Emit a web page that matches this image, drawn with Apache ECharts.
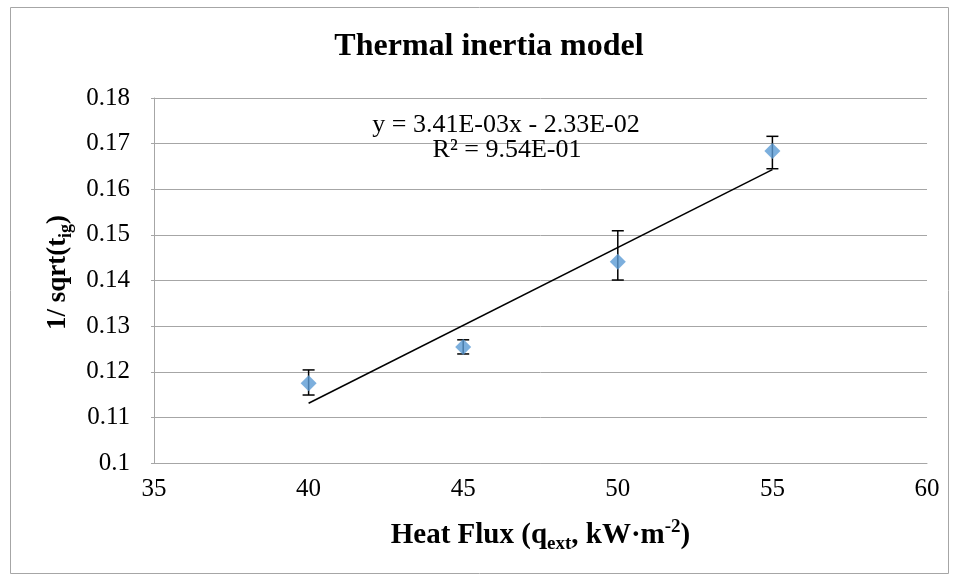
<!DOCTYPE html>
<html><head><meta charset="utf-8">
<script src="https://cdn.jsdelivr.net/npm/echarts@6/dist/echarts.min.js"></script>
<style>html,body{margin:0;padding:0;background:#fff}#c{width:958px;height:580px}</style>
</head><body><div id="c"></div>
<script>
// Data
const heatFlux = [40, 45, 50, 55];
const invSqrtTig = [0.1175, 0.1254, 0.1441, 0.1684];
const errLow = [0.1149, 0.1239, 0.1401, 0.1645];
const errHigh = [0.1204, 0.1270, 0.1509, 0.1716];
const trendX = [40, 55];
const trendY = [0.1131, 0.1643];
const titleText = 'Thermal inertia model';
const eqLine1 = 'y = 3.41E-03x - 2.33E-02';
const eqLine2 = 'R² = 9.54E-01';

const FONT = '"Liberation Serif", "Times New Roman", serif';
const chart = echarts.init(document.getElementById('c'), null, {renderer: 'canvas'});

const pts = heatFlux.map((x, i) => [x, invSqrtTig[i]]);
const errs = heatFlux.map((x, i) => [x, errLow[i], errHigh[i]]);
const trend = trendX.map((x, i) => [x, trendY[i]]);

chart.setOption({
  backgroundColor: '#fff',
  animation: false,
  grid: {left: 154, right: 31, top: 98, bottom: 117, containLabel: false},
  xAxis: {
    type: 'value', min: 35, max: 60, interval: 5,
    axisLine: {show: true, lineStyle: {color: '#a6a6a6', width: 1}},
    axisTick: {show: false},
    splitLine: {show: false},
    axisLabel: {color: '#000', fontFamily: FONT, fontSize: 25, margin: 14},
    name: '{b|Heat Flux (q}{s|ext}{b|, kW·m}{p|-2}{b|)}',
    nameLocation: 'middle', nameGap: 55,
    nameTextStyle: {
      rich: {
        b: {fontFamily: FONT, fontSize: 29, fontWeight: 'bold', color: '#000', lineHeight: 36, verticalAlign: 'middle'},
        s: {fontFamily: FONT, fontSize: 19, fontWeight: 'bold', color: '#000', lineHeight: 17, verticalAlign: 'bottom'},
        p: {fontFamily: FONT, fontSize: 19, fontWeight: 'bold', color: '#000', lineHeight: 17, verticalAlign: 'top'}
      }
    }
  },
  yAxis: {
    type: 'value', min: 0.1, max: 0.18, interval: 0.01,
    axisLine: {show: true, lineStyle: {color: '#a6a6a6', width: 1}},
    axisTick: {show: true, length: 3, lineStyle: {color: '#a6a6a6'}},
    splitLine: {show: true, lineStyle: {color: '#a6a6a6', width: 1}},
    axisLabel: {color: '#000', fontFamily: FONT, fontSize: 25, margin: 24,
      formatter: v => String(parseFloat(v.toFixed(2)))},
    name: '{b|1/ sqrt(t}{s|ig}{b|)}',
    nameLocation: 'middle', nameGap: 74, nameRotate: 90,
    nameTextStyle: {
      padding: [0, 0, 0, 16],
      rich: {
        b: {fontFamily: FONT, fontSize: 27, fontWeight: 'bold', color: '#000', lineHeight: 34, verticalAlign: 'middle'},
        s: {fontFamily: FONT, fontSize: 18, fontWeight: 'bold', color: '#000', lineHeight: 16, verticalAlign: 'bottom'}
      }
    }
  },
  series: [
    {
      type: 'line', data: trend, symbol: 'none', silent: true,
      lineStyle: {color: '#000', width: 1.5}, z: 2
    },
    {
      type: 'custom', data: errs, z: 3, silent: true,
      renderItem: (params, api) => {
        const x = api.value(0);
        const lo = api.coord([x, api.value(1)]);
        const hi = api.coord([x, api.value(2)]);
        const cw = 6;
        const st = {stroke: '#000', lineWidth: 1.5};
        return {type: 'group', children: [
          {type: 'line', shape: {x1: lo[0], y1: lo[1], x2: hi[0], y2: hi[1]}, style: st},
          {type: 'line', shape: {x1: lo[0]-cw, y1: lo[1], x2: lo[0]+cw, y2: lo[1]}, style: st},
          {type: 'line', shape: {x1: hi[0]-cw, y1: hi[1], x2: hi[0]+cw, y2: hi[1]}, style: st}
        ]};
      }
    },
    {
      type: 'scatter', data: pts, symbol: 'diamond', symbolSize: [16, 16], z: 4,
      itemStyle: {color: '#5B9BD5'}
    }
  ],
  graphic: [
    {type: 'rect', shape: {x: 10.5, y: 7.5, width: 938, height: 566},
     style: {fill: 'none', stroke: '#a6a6a6', lineWidth: 1}, silent: true, z: -10},
    {type: 'text', x: 489, y: 47, style: {text: titleText, font: 'bold 32px ' + FONT,
      fill: '#000', textAlign: 'center', textVerticalAlign: 'middle'}},
    {type: 'text', x: 506, y: 125, style: {text: eqLine1, font: '26px ' + FONT,
      fill: '#000', textAlign: 'center', textVerticalAlign: 'middle'}, z: 10},
    {type: 'text', x: 507, y: 150, style: {text: eqLine2, font: '26px ' + FONT,
      fill: '#000', textAlign: 'center', textVerticalAlign: 'middle'}, z: 10}
  ]
});
</script></body></html>
